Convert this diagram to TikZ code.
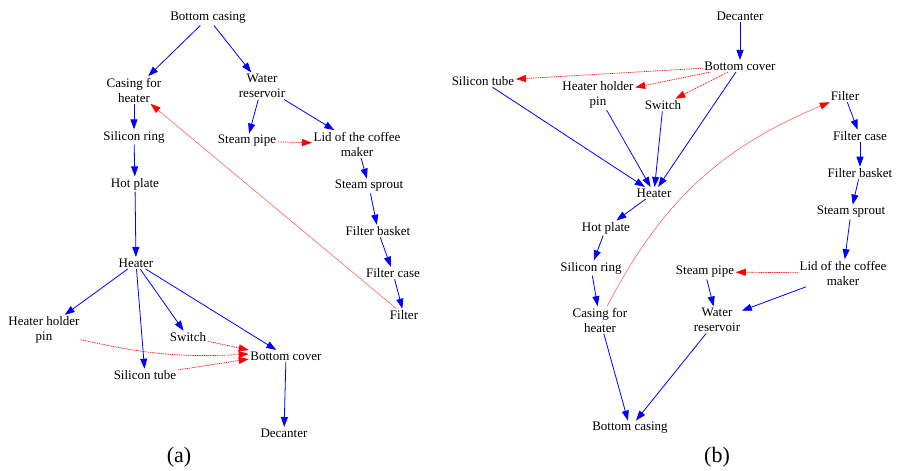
\documentclass[tikz,border=0pt]{standalone}
\usepackage{fontspec}
\setmainfont{Liberation Serif}
\usetikzlibrary{arrows.meta}
\begin{document}
\begin{tikzpicture}[x=1pt,y=-1pt,
  part/.style={inner sep=1.5pt, align=center, font=\fontsize{13}{15}\selectfont},
  tag/.style={inner sep=0pt, font=\fontsize{22}{24}\selectfont},
  tip/.style={-{Triangle[length=10pt,width=7pt]}},
  seq/.style={draw=blue, line width=0.8pt, tip},
  rel/.style={draw=red, line width=0.7pt, dash pattern=on 1pt off 0.8pt, tip},
  link/.style={draw=red!75, line width=0.45pt, -{Triangle[length=10pt,width=7pt,color=red]}}
]
\useasboundingbox (0,0) rectangle (898,471);

% ---------- (a) assembly order ----------
\node[part] (a1)  at (208,18)  {Bottom casing};
\node[part] (a2)  at (134,90)  {Casing for\\heater};
\node[part] (a3)  at (262,86)  {Water\\reservoir};
\node[part] (a4)  at (134,137) {Silicon ring};
\node[part] (a5)  at (247,141) {Steam pipe};
\node[part] (a6)  at (357,144) {Lid of the coffee\\maker};
\node[part] (a7)  at (135,184) {Hot plate};
\node[part] (a8)  at (369,186) {Steam sprout};
\node[part] (a9)  at (378,231) {Filter basket};
\node[part] (a10) at (393,273) {Filter case};
\node[part] (a11) at (136,263) {Heater};
\node[part] (a12) at (404,315) {Filter};
\node[part] (a13) at (44,330)  {Heater holder\\pin};
\node[part] (a14) at (188,337) {Switch};
\node[part] (a15) at (286,356) {Bottom cover};
\node[part] (a16) at (145,375) {Silicon tube};
\node[part] (a17) at (284,433) {Decanter};
\node[tag]  (la)  at (179,457) {(a)};

\draw[seq] (a1) -- (a2);
\draw[seq] (a1) -- (a3);
\draw[seq] (a2) -- (a4);
\draw[seq] (a4) -- (a7);
\draw[seq] (a7) -- (a11);
\draw[seq] (a3) -- (a5);
\draw[seq] (a3) -- (a6);
\draw[rel] (a5) -- (a6);
\draw[seq] (a6) -- (a8);
\draw[seq] (a8) -- (a9);
\draw[seq] (a9) -- (a10);
\draw[seq] (a10) -- (a12);
\draw[link] (a12) -- (a2);
\draw[seq] (a11) -- (a13);
\draw[seq] (a11) -- (a16);
\draw[seq] (a11) -- (a14);
\draw[seq] (a11) -- (a15);
\draw[rel] (a13) to[bend right=8] ([yshift=2pt]a15.west);
\draw[rel] (a14) -- ([yshift=6pt]a15.west);
\draw[rel] (a16) -- ([yshift=-3pt]a15.west);
\draw[seq] (a15) -- (a17);

% ---------- (b) disassembly order ----------
\node[part] (b1)  at (740,16)  {Decanter};
\node[part] (b2)  at (740,66)  {Bottom cover};
\node[part] (b3)  at (483,81)  {Silicon tube};
\node[part] (b4)  at (598,95)  {Heater holder\\pin};
\node[part] (b5)  at (663,105) {Switch};
\node[part] (b6)  at (845,96)  {Filter};
\node[part] (b7)  at (860,136) {Filter case};
\node[part] (b8)  at (860,173) {Filter basket};
\node[part] (b9)  at (851,212) {Steam sprout};
\node[part] (b10) at (654,193) {Heater};
\node[part] (b11) at (606,228) {Hot plate};
\node[part] (b12) at (591,268) {Silicon ring};
\node[part] (b13) at (843,273) {Lid of the coffee\\maker};
\node[part] (b14) at (705,272) {Steam pipe};
\node[part] (b15) at (600,320) {Casing for\\heater};
\node[part] (b16) at (717,320) {Water\\reservoir};
\node[part] (b17) at (630,428) {Bottom casing};
\node[tag]  (lb)  at (717,457) {(b)};

\draw[seq] (b1) -- (b2);
\draw[rel] (b2) -- (b3);
\draw[rel] (b2) -- (b4);
\draw[rel] (b2) -- (b5);
\draw[seq] (b2) -- (b10);
\draw[seq] (b3) -- (b10);
\draw[seq] (b4) -- (b10);
\draw[seq] (b5) -- (b10);
\draw[seq] (b10) -- (b11);
\draw[seq] (b11) -- (b12);
\draw[seq] (b12) -- (b15);
\draw[link] (b15) to[bend left=20] (b6);
\draw[seq] (b6) -- (b7);
\draw[seq] (b7) -- (b8);
\draw[seq] (b8) -- (b9);
\draw[seq] (b9) -- (b13);
\draw[rel] (b13) -- (b14);
\draw[seq] (b13) -- (b16);
\draw[seq] (b14) -- (b16);
\draw[seq] (b15) -- (b17);
\draw[seq] (b16) -- (b17);
\end{tikzpicture}
\end{document}
